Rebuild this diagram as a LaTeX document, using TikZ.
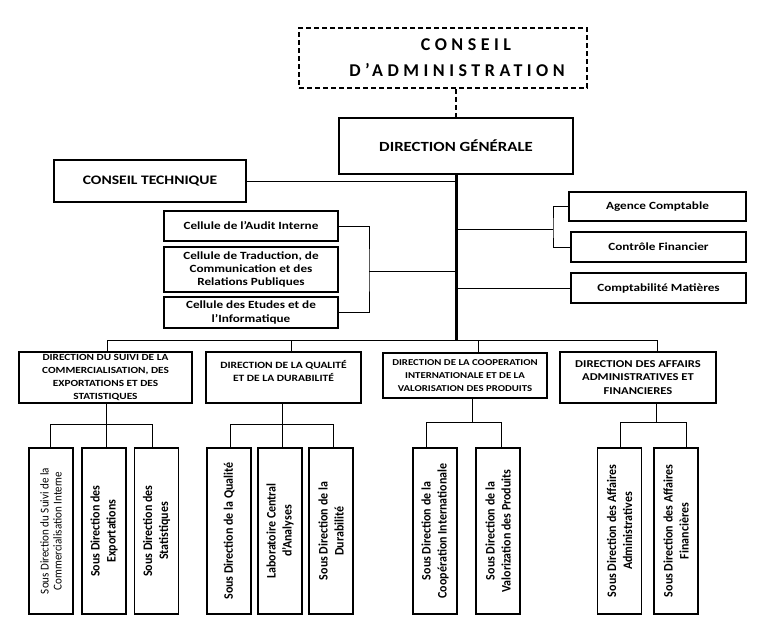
\documentclass[tikz,border=0pt]{standalone}
\usepackage{fontspec}
\setmainfont{Carlito}
\newfontfamily\hf[FakeStretch=1.2]{Carlito}
\newfontfamily\cf[FakeStretch=0.92]{Carlito}
\newfontfamily\lsf[LetterSpace=25]{Carlito}
\begin{document}
\begin{tikzpicture}[x=1pt,y=-1pt,
  box/.style={draw, line width=1.8pt, inner sep=1pt, align=center},
  conn/.style={line width=0.9pt},
  trunk/.style={line width=3pt},
  sub/.style={draw, line width=1.8pt, rotate=90, minimum width=166pt, minimum height=44pt,
    inner sep=1pt, align=center, font=\cf\bfseries\fontsize{13}{16}\selectfont},
  dfont/.style={font=\hf\bfseries\fontsize{#1}{13.3}\selectfont},
  cfont/.style={font=\hf\bfseries\fontsize{11}{13.3}\selectfont},
]
\useasboundingbox (0,0) rectangle (776,640);

% top
\node[box, dashed, dash pattern=on 5pt off 3pt, line width=1.6pt, minimum width=288pt, minimum height=60pt,
  font=\lsf\bfseries\fontsize{18}{26}\selectfont] (CA) at (443,58) {\hspace*{46pt}CONSEIL\\\hspace*{28pt}D’ADMINISTRATION};
\node[box, minimum width=234pt, minimum height=56pt, font=\hf\bfseries\fontsize{14}{17}\selectfont] (DG) at (456,146) {DIRECTION GÉNÉRALE};
\node[box, minimum width=192pt, minimum height=42pt, font=\hf\bfseries\fontsize{13}{16}\selectfont] (CT) at (150,181) {CONSEIL TECHNIQUE};

% cells
\node[box, cfont, minimum width=174pt, minimum height=30pt] (AU) at (251,226) {Cellule de l’Audit Interne};
\node[box, cfont, minimum width=174pt, minimum height=45pt] (TR) at (251,269.5) {Cellule de Traduction, de\\Communication et des\\Relations Publiques};
\node[box, cfont, minimum width=174pt, minimum height=31pt] (ET) at (251,312.5) {Cellule des Etudes et de\\l’Informatique};

% right
\node[box, cfont, minimum width=177pt, minimum height=29pt] (AC) at (657.5,206.5) {Agence Comptable};
\node[box, cfont, minimum width=175pt, minimum height=30pt] (CF) at (658.5,247) {Contrôle Financier};
\node[box, cfont, minimum width=175pt, minimum height=30pt] (CM) at (658.5,288) {Comptabilité Matières};

% directions
\node[box, dfont=9.4, minimum width=173pt, minimum height=51pt] (D1) at (105.5,377.5) {DIRECTION DU SUIVI DE LA\\COMMERCIALISATION, DES\\EXPORTATIONS ET DES\\STATISTIQUES};
\node[box, dfont=9.6, minimum width=155pt, minimum height=51pt] (D2) at (283.5,377.5) {DIRECTION DE LA QUALITÉ\\ET DE LA DURABILITÉ\\[-4pt]\strut};
\node[box, dfont=9, minimum width=164pt, minimum height=45pt] (D3) at (465,375.5) {DIRECTION DE LA COOPERATION\\INTERNATIONALE ET DE LA\\VALORISATION DES PRODUITS};
\node[box, dfont=10.5, minimum width=156pt, minimum height=51pt] (D4) at (638,377.5) {DIRECTION DES AFFAIRS\\ADMINISTRATIVES ET\\FINANCIERES};

% sub directions
\node[sub, font=\cf\fontsize{12}{13}\selectfont] (S11) at (51,531) {Sous Direction du Suivi de la\\Commercialisation Interne};
\node[sub] (S12) at (104,531) {Sous Direction des\\Exportations};
\node[sub] (S13) at (156.5,531) {Sous Direction des\\Statistiques};
\node[sub] (S21) at (229,531) {Sous Direction de la Qualité};
\node[sub] (S22) at (280,531) {Laboratoire Central\\d’Analyses};
\node[sub] (S23) at (331,531) {Sous Direction de la\\Durabilité};
\node[sub] (S31) at (435,531) {Sous Direction de la\\Coopération Internationale};
\node[sub] (S32) at (498,531) {Sous Direction de la\\Valorization des Produits};
\node[sub] (S41) at (619.5,531) {Sous Direction des Affaires\\Administratives};
\node[sub] (S42) at (676,531) {Sous Direction des Affaires\\Financières};

% connectors top
\draw[line width=1.6pt, dash pattern=on 5pt off 3pt] (CA.south -| DG.north) -- (DG.north);
\coordinate (tb) at (456,340);
\draw[trunk] (DG.south) -- (tb);
\draw[conn] (CT.east) -- (CT.east -| DG.south);
\coordinate (cb) at (369,271);
\draw[conn] (AU.east) -| (cb) |- (ET.east);
\draw[conn] (cb) -- (cb -| DG.south);
\coordinate (rb) at (553,229);
\draw[conn] (AC.west) -| (rb) |- (CF.west);
\draw[conn] (rb) -- (rb -| DG.south);
\draw[conn] (CM.west) -- (CM.west -| DG.south);

% main bus
\coordinate (b1) at (107,340);
\coordinate (b2) at (291,340);
\coordinate (b3) at (478,340);
\coordinate (b4) at (657,340);
\draw[conn] (b1) -- (b4);
\draw[conn] (b1) -- (b1 |- D1.north);
\draw[conn] (b2) -- (b2 |- D2.north);
\draw[conn] (b3) -- (b3 |- D3.north);
\draw[conn] (b4) -- (b4 |- D4.north);

% group 1
\coordinate (q1) at (106,424);
\coordinate (p11) at (50,424);
\coordinate (p13) at (152,424);
\draw[conn] (q1 |- D1.south) -- (q1 |- S12.east);
\draw[conn] (p11 |- S11.east) -- (p11) -- (p13) -- (p13 |- S13.east);
% group 2
\coordinate (q2) at (282,424);
\coordinate (p21) at (230,424);
\coordinate (p23) at (333,424);
\draw[conn] (q2 |- D2.south) -- (q2 |- S22.east);
\draw[conn] (p21 |- S21.east) -- (p21) -- (p23) -- (p23 |- S23.east);
% group 3
\coordinate (q3) at (472,422);
\coordinate (p31) at (426,422);
\coordinate (p32) at (501,422);
\draw[conn] (q3 |- D3.south) -- (q3);
\draw[conn] (p31 |- S31.east) -- (p31) -- (p32) -- (p32 |- S32.east);
% group 4
\coordinate (q4) at (656,422);
\coordinate (p41) at (620,422);
\coordinate (p42) at (686,422);
\draw[conn] (q4 |- D4.south) -- (q4);
\draw[conn] (p41 |- S41.east) -- (p41) -- (p42) -- (p42 |- S42.east);
\end{tikzpicture}
\end{document}
